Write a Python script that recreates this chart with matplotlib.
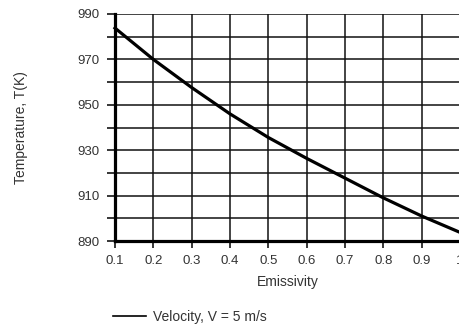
import matplotlib
matplotlib.use("Agg")
import matplotlib.pyplot as plt
from matplotlib.ticker import MultipleLocator

plt.rcParams['font.family'] = ['Liberation Sans', 'DejaVu Sans']

# emissivity vs temperature
emissivity = [0.1, 0.2, 0.3, 0.4, 0.5, 0.6, 0.7, 0.8, 0.9, 1.0]
temperature = [983.8, 970.0, 957.6, 946.0, 935.6, 926.4, 917.7, 909.0, 901.0, 893.8]
x_ticks = [0.1, 0.2, 0.3, 0.4, 0.5, 0.6, 0.7, 0.8, 0.9, 1.0]
x_labels = ['0.1', '0.2', '0.3', '0.4', '0.5', '0.6', '0.7', '0.8', '0.9', '1']
y_ticks = [890, 910, 930, 950, 970, 990]

W, H = 459, 329
fig = plt.figure(figsize=(W / 100, H / 100), dpi=100)
# axes runs slightly past the right edge, as in the reference
ax = fig.add_axes([115 / W, 1 - 241 / H, (460 - 115) / W, (241 - 14) / H])

ax.plot(emissivity, temperature, color='black', lw=2.3, clip_on=False, zorder=3,
        solid_joinstyle='round')

ax.set_xlim(0.1, 1.0)
ax.set_ylim(890, 990)
ax.set_xticks(x_ticks)
ax.set_xticklabels(x_labels)
ax.set_yticks(y_ticks)
ax.yaxis.set_minor_locator(MultipleLocator(10))
ax.grid(True, which='both', color='#111111', lw=1.1)
ax.set_axisbelow(True)

for side in ['top', 'right']:
  ax.spines[side].set_visible(False)
for side in ['left', 'bottom']:
  ax.spines[side].set_linewidth(2.3)

ax.tick_params(axis='both', which='both', direction='out', color='black', width=1.1,
               labelsize=9.5, colors='#333333')
ax.tick_params(axis='x', length=5, pad=5)
ax.tick_params(axis='y', which='both', length=6, pad=5)

ax.set_xlabel('Emissivity', fontsize=10, color='#333333', labelpad=6)
fig.text(21 / W, 1 - 128 / H, 'Temperature, T(K)', rotation=90, fontsize=10,
         color='#333333', ha='center', va='center')

# legend below the chart
fig.add_artist(plt.Line2D([113 / W, 146 / W], [1 - 316 / H, 1 - 316 / H],
                          color='black', lw=1.2))
fig.text(153 / W, 1 - 317 / H, 'Velocity, V = 5 m/s', fontsize=10,
         color='#333333', ha='left', va='center')

fig.savefig('out.png', dpi=100)
